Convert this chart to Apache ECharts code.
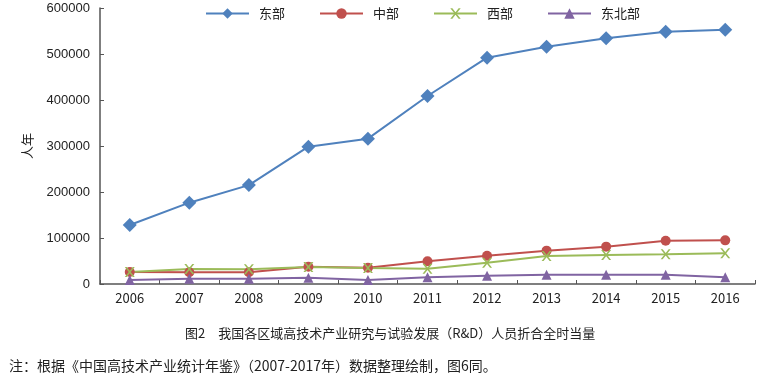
<!DOCTYPE html>
<html>
<head>
<meta charset="utf-8">
<script src="https://cdn.jsdelivr.net/npm/echarts@6/dist/echarts.min.js"></script>
<style>
  html, body { margin: 0; padding: 0; background: #fff; }
  #chart { width: 761px; height: 377px; }
</style>
</head>
<body>
<div id="chart"></div>
<script>
// 年份
var years = ['2006', '2007', '2008', '2009', '2010', '2011', '2012', '2013', '2014', '2015', '2016'];
// 各区域 R&D 人员折合全时当量（人年）
var east = [128300, 176800, 215000, 298500, 315900, 408700, 492000, 515900, 534100, 548600, 552900];
var central = [26000, 25400, 25400, 37600, 35500, 49300, 61600, 72500, 81200, 94200, 94900];
var west = [26000, 32600, 32000, 37000, 34800, 33300, 46400, 60900, 63000, 64500, 66700];
var northeast = [8700, 11600, 11600, 13800, 8700, 14500, 18100, 20300, 20300, 20300, 14500];
var seriesNames = ['东部', '中部', '西部', '东北部'];

var cjk = '"Noto Sans CJK SC", "Noto Sans", sans-serif';

var chart = echarts.init(document.getElementById('chart'));

function lineSeries(name, data, color, symbol, size) {
  return {
    name: name,
    type: 'line',
    data: data,
    symbol: symbol,
    symbolSize: size,
    lineStyle: { color: color, width: 2 },
    itemStyle: { color: color },
    emphasis: { disabled: true },
    animation: false
  };
}

var option = {
  animation: false,
  title: [
    {
      text: '图2　我国各区域高技术产业研究与试验发展（R&D）人员折合全时当量',
      left: 180,
      top: 322,
      textStyle: { fontFamily: cjk, fontSize: 13, fontWeight: 'normal', color: '#222' }
    },
    {
      text: '注：根据《中国高技术产业统计年鉴》（2007-2017年）数据整理绘制，图6同。',
      left: 4,
      top: 354,
      textStyle: { fontFamily: cjk, fontSize: 14, fontWeight: 'normal', color: '#222' }
    }
  ],
  legend: {
    data: seriesNames,
    left: 200,
    top: 2,
    itemWidth: 43,
    itemHeight: 13,
    itemGap: 34,
    textStyle: { fontFamily: cjk, fontSize: 13, color: '#222', padding: [0, 0, 0, 5] }
  },
  grid: {
    left: 100,
    right: 6,
    top: 8,
    bottom: 93
  },
  xAxis: {
    type: 'category',
    data: years,
    boundaryGap: true,
    axisLine: { lineStyle: { color: '#555', width: 1.5 } },
    axisTick: { show: true, inside: true, length: 4, lineStyle: { color: '#555' } },
    axisLabel: { fontFamily: cjk, fontSize: 13, color: '#222', margin: 8 }
  },
  yAxis: {
    type: 'value',
    min: 0,
    max: 600000,
    interval: 100000,
    name: '人年',
    nameLocation: 'middle',
    nameRotate: 90,
    nameGap: 66,
    nameTextStyle: { fontFamily: cjk, fontSize: 13, color: '#222' },
    axisLine: { show: true, lineStyle: { color: '#555', width: 1.5 } },
    axisTick: { show: true, inside: true, length: 4, lineStyle: { color: '#555' } },
    splitLine: { show: false },
    axisLabel: {
      fontFamily: '"Liberation Sans", Arial, sans-serif',
      fontSize: 13,
      color: '#222',
      margin: 10,
      formatter: function (v) { return String(v); }
    }
  },
  series: [
    lineSeries('东部', east, '#4F81BD', 'diamond', 14),
    lineSeries('中部', central, '#C0504D', 'circle', 10),
    lineSeries('西部', west, '#9BBB59', 'path://M0,0 L2,0 L5,3 L8,0 L10,0 L6,4 L10,8 L8,8 L5,5 L2,8 L0,8 L4,4 Z', 10),
    lineSeries('东北部', northeast, '#8064A2', 'triangle', 10)
  ]
};

chart.setOption(option);
</script>
</body>
</html>
